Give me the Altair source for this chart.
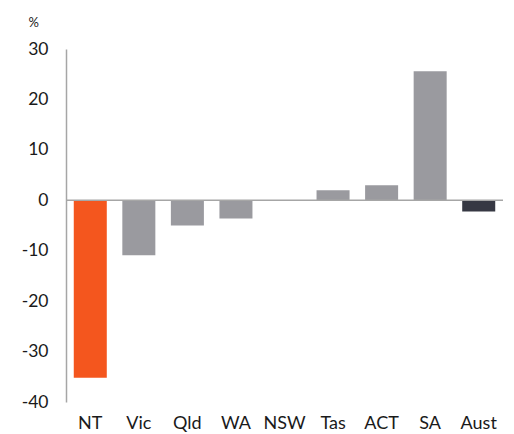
import altair as alt
import pandas as pd

states = ["NT", "Vic", "Qld", "WA", "NSW", "Tas", "ACT", "SA", "Aust"]
values = [-35.2, -10.9, -5.0, -3.6, 0.0, 2.0, 3.0, 25.6, -2.2]
colors = ["#F4561E", "#9A9A9F", "#9A9A9F", "#9A9A9F", "#9A9A9F", "#9A9A9F", "#9A9A9F", "#9A9A9F", "#363843"]

df = pd.DataFrame({"state": states, "value": values, "color": colors})

FONT = "Lato"

bars = alt.Chart(df).mark_bar().encode(
    x=alt.X("state:N", sort=states,
            scale=alt.Scale(paddingInner=0.32, paddingOuter=0.16),
            axis=alt.Axis(title=None, labelAngle=0, ticks=False, domain=False,
                          labelFont=FONT, labelFontSize=18, labelColor="#1a1a1a",
                          labelPadding=12)),
    y=alt.Y("value:Q", scale=alt.Scale(domain=[-40, 30], nice=False),
            axis=alt.Axis(title="%", titleAngle=0, titleAlign="left", titleBaseline="alphabetic",
                          titleX=-38, titleY=-23, titleFont=FONT, titleFontSize=13,
                          titleFontWeight="normal", titleColor="#1a1a1a",
                          values=[-40, -30, -20, -10, 0, 10, 20, 30], grid=False, ticks=False,
                          labelExpr="datum.value + ''",
                          domainColor="#a6a6a6", domainWidth=1.5,
                          labelFont=FONT, labelFontSize=17.5, labelColor="#1a1a1a",
                          labelPadding=18)),
    color=alt.Color("color:N", scale=None),
)

zero = alt.Chart(pd.DataFrame({"z": [0]})).mark_rule(color="#a6a6a6", strokeWidth=1.5).encode(
    y="z:Q"
)

chart = (bars + zero).properties(
    width=437, height=353,
    padding={"left": 58, "top": 41, "right": 3, "bottom": 32},
    autosize=alt.AutoSizeParams(type="none"),
).configure_view(stroke=None)

chart.save("out.html", embed_options={"renderer": "svg", "actions": False})
